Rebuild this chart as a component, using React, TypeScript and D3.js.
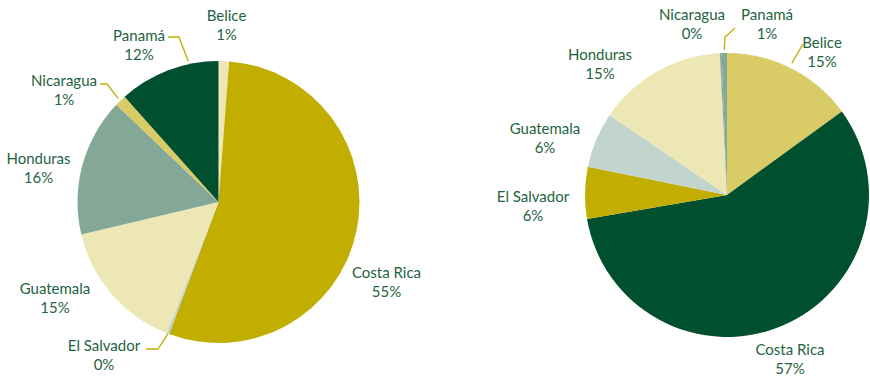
import React from "react";
import * as d3 from "d3";

const countries = ["Belice", "Costa Rica", "El Salvador", "Guatemala", "Honduras", "Nicaragua", "Panamá"];
const leftValues = [1.2, 54.5, 0.3, 15.3, 15.8, 1.3, 11.6];
const leftLabels = ["1%", "55%", "0%", "15%", "16%", "1%", "12%"];
const rightValues = [15.0, 57.3, 5.9, 6.3, 14.7, 0.2, 0.6];
const rightLabels = ["15%", "57%", "6%", "6%", "15%", "0%", "1%"];

const DARK = "#00502f";
const GOLD = "#c2ae00";
const YELLOW = "#d9cc66";
const PALE = "#ede6b5";
const SAGE = "#84a898";
const MIST = "#c2d5cd";
const TEXT = "#1f6440";

const leftColors = [PALE, GOLD, MIST, PALE, SAGE, YELLOW, DARK];
const rightColors = [YELLOW, DARK, GOLD, MIST, PALE, SAGE, SAGE];

type Pt = [number, number];

const leftPie = {
  cx: 218.5, cy: 202, r: 141,
  values: leftValues, labels: leftLabels, colors: leftColors,
  labelPos: [[226.5, 16], [386.5, 273], [104, 346], [55, 289], [38.5, 159], [64, 81], [139, 36]] as Pt[],
  leaders: [
    { idx: 6, r: 144, frac: 0.71, elbow: [179, 37], end: [168, 37] },
    { idx: 5, r: 144, frac: 0.5, elbow: [107, 84], end: [100, 84] },
    { idx: 2, r: 141, frac: 0.5, elbow: [158, 349], end: [146, 349] },
  ],
};

const rightPie = {
  cx: 727, cy: 195, r: 142,
  values: rightValues, labels: rightLabels, colors: rightColors,
  labelPos: [[822, 43], [790, 350], [533, 197], [545, 129], [600, 55], [692, 15], [767, 15]] as Pt[],
  leaders: [
    { idx: 6, r: 145, frac: 0.5, elbow: [725, 37], end: [735, 28] },
    { idx: 0, r: 147, frac: 0.485, elbow: [803, 44], end: [803, 44] },
  ],
};

function PieChart({ cfg }: { cfg: typeof leftPie }) {
  const pie = d3.pie<number>().sort(null).value((d) => d);
  const arcs = pie(cfg.values);
  const arc = d3.arc<d3.PieArcDatum<number>>().innerRadius(0).outerRadius(cfg.r);
  const line = d3.line();
  return (
    <g>
      <g transform={`translate(${cfg.cx},${cfg.cy})`}>
        {arcs.map((a, i) => (
          <path key={i} d={arc(a) || ""} fill={cfg.colors[i]} />
        ))}
      </g>
      {cfg.leaders.map((l, i) => {
        const a = arcs[l.idx];
        const ang = a.startAngle + (a.endAngle - a.startAngle) * l.frac;
        const p: Pt = [cfg.cx + l.r * Math.sin(ang), cfg.cy - l.r * Math.cos(ang)];
        const pts: Pt[] = [p, l.elbow as Pt, l.end as Pt];
        return <path key={i} d={line(pts) || ""} fill="none" stroke={GOLD} strokeWidth={1.3} />;
      })}
      {cfg.labelPos.map((pos, i) => (
        <text key={i} x={pos[0]} y={pos[1]} textAnchor="middle" fill={TEXT}
          style={{ fontFamily: "Lato, 'Open Sans', sans-serif", fontSize: 15 }}>
          <tspan x={pos[0]} dy="0.35em">{countries[i]}</tspan>
          <tspan x={pos[0]} dy="18.5">{cfg.labels[i]}</tspan>
        </text>
      ))}
    </g>
  );
}

export default function App() {
  return (
    <svg width={870} height={377} style={{ position: "absolute", left: 0, top: 0 }}>
      <rect width={870} height={377} fill="#ffffff" />
      <PieChart cfg={leftPie} />
      <PieChart cfg={rightPie as any} />
    </svg>
  );
}
